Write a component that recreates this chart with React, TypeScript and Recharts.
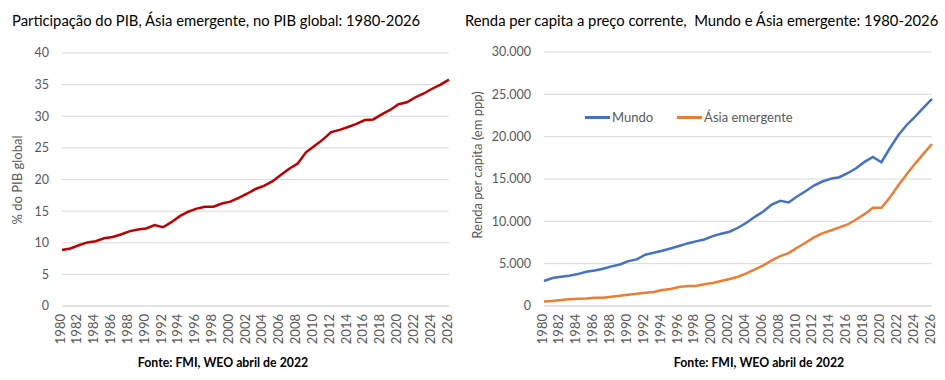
import React from 'react'
import { LineChart, Line, XAxis, YAxis, CartesianGrid } from 'recharts'

const years = [
  '1980', '1981', '1982', '1983', '1984', '1985', '1986', '1987', '1988', '1989',
  '1990', '1991', '1992', '1993', '1994', '1995', '1996', '1997', '1998', '1999',
  '2000', '2001', '2002', '2003', '2004', '2005', '2006', '2007', '2008', '2009',
  '2010', '2011', '2012', '2013', '2014', '2015', '2016', '2017', '2018', '2019',
  '2020', '2021', '2022', '2023', '2024', '2025', '2026',
]

// % do PIB global, Ásia emergente
const shareAsia = [
  8.85, 9.1, 9.6, 10.05, 10.25, 10.7, 10.9, 11.3, 11.8, 12.1,
  12.25, 12.8, 12.45, 13.25, 14.2, 14.9, 15.4, 15.7, 15.7, 16.2,
  16.5, 17.1, 17.75, 18.5, 19.0, 19.7, 20.7, 21.7, 22.5, 24.3,
  25.3, 26.3, 27.5, 27.85, 28.3, 28.8, 29.4, 29.5, 30.3, 31.0,
  31.9, 32.2, 33.0, 33.6, 34.35, 35.0, 35.8,
]

// renda per capita (ppp)
const mundo = [
  2950, 3300, 3450, 3580, 3770, 4050, 4200, 4400, 4680, 4910,
  5300, 5500, 6050, 6290, 6520, 6800, 7080, 7390, 7630, 7860,
  8250, 8530, 8770, 9240, 9830, 10530, 11160, 11990, 12420, 12230,
  12930, 13560, 14230, 14700, 15020, 15210, 15680, 16270, 17020, 17610,
  16980, 18630, 20160, 21380, 22370, 23430, 24450,
]

const asiaEmergente = [
  540, 580, 710, 790, 860, 900, 980, 980, 1100, 1220,
  1340, 1450, 1570, 1650, 1890, 2000, 2240, 2360, 2360, 2560,
  2710, 2950, 3180, 3460, 3850, 4320, 4800, 5390, 5900, 6250,
  6880, 7470, 8100, 8570, 8920, 9280, 9630, 10220, 10850, 11600,
  11600, 12810, 14230, 15570, 16820, 18000, 19140,
]

const shareTicks = [0, 5, 10, 15, 20, 25, 30, 35, 40]
const rendaTicks = [0, 5000, 10000, 15000, 20000, 25000, 30000]

const FONT = 'Lato, "Open Sans", sans-serif'
const GRAY = '#595959'
const GRID = '#d9d9d9'

const shareData = years.map((y, i) => ({ year: y, share: shareAsia[i] }))
const rendaData = years.map((y, i) => ({ year: y, mundo: mundo[i], asia: asiaEmergente[i] }))

const fmtThousands = (v: number) => v.toLocaleString('de-DE')

function YearTick({ x, y, payload }: any) {
  return (
    <text
      x={x - 2}
      y={y}
      dy="0.35em"
      textAnchor="end"
      transform={`rotate(-90, ${x - 2}, ${y})`}
      fill={GRAY}
      fontSize={13}
      fontFamily={FONT}
    >
      {payload.value}
    </text>
  )
}

const tickStyle = { fill: GRAY, fontSize: 12.5, fontFamily: FONT }

const titleStyle: React.CSSProperties = {
  position: 'absolute',
  top: 10,
  fontFamily: FONT,
  fontSize: 14.8,
  color: '#000',
  whiteSpace: 'nowrap',
  lineHeight: '20px',
}

const sourceStyle: React.CSSProperties = {
  position: 'absolute',
  top: 354,
  fontFamily: FONT,
  fontSize: 12.3,
  fontWeight: 700,
  color: '#000',
  whiteSpace: 'nowrap',
  lineHeight: '18px',
  transform: 'translateX(-50%)',
}

const axisLabelStyle: React.CSSProperties = {
  position: 'absolute',
  fontFamily: FONT,
  fontSize: 13,
  color: GRAY,
  whiteSpace: 'nowrap',
  lineHeight: '16px',
  transform: 'translate(-50%, -50%) rotate(-90deg)',
}

function LegendItem({ color, label }: { color: string; label: string }) {
  return (
    <div style={{ display: 'flex', alignItems: 'center', marginRight: 24 }}>
      <div style={{ width: 25, height: 3, background: color }} />
      <span style={{ marginLeft: 2, fontFamily: FONT, fontSize: 13, color: GRAY }}>{label}</span>
    </div>
  )
}

export default function App() {
  return (
    <div style={{ position: 'absolute', left: 0, top: 0, width: 945, height: 380, background: '#fff', overflow: 'hidden' }}>
      <div style={{ ...titleStyle, left: 12 }}>Participação do PIB, Ásia emergente, no PIB global: 1980-2026</div>
      <div style={{ ...titleStyle, left: 465 }}>Renda per capita a preço corrente,&nbsp; Mundo e Ásia emergente: 1980-2026</div>

      <div style={{ position: 'absolute', left: 0, top: 0 }}>
        <LineChart width={470} height={380} data={shareData} margin={{ top: 53, right: 21, bottom: 0, left: 0 }}>
          <CartesianGrid vertical={false} stroke={GRID} />
          <XAxis
            dataKey="year"
            interval={1}
            height={74}
            tickLine={false}
            axisLine={{ stroke: GRID }}
            tick={<YearTick />}
          />
          <YAxis
            domain={[0, 40]}
            ticks={shareTicks}
            width={62}
            axisLine={false}
            tickLine={false}
            tickMargin={7}
            tick={tickStyle}
          />
          <Line type="linear" dataKey="share" stroke="#c00000" strokeWidth={2.5} dot={false} isAnimationActive={false} />
        </LineChart>
      </div>

      <div style={{ position: 'absolute', left: 470, top: 0 }}>
        <LineChart width={475} height={380} data={rendaData} margin={{ top: 52, right: 13, bottom: 0, left: 0 }}>
          <CartesianGrid vertical={false} stroke={GRID} />
          <XAxis
            dataKey="year"
            interval={1}
            height={74}
            tickLine={false}
            axisLine={{ stroke: GRID }}
            tick={<YearTick />}
          />
          <YAxis
            domain={[0, 30000]}
            ticks={rendaTicks}
            width={74}
            axisLine={false}
            tickLine={false}
            tickMargin={7}
            tick={tickStyle}
            tickFormatter={fmtThousands}
          />
          <Line type="linear" dataKey="mundo" stroke="#4472c4" strokeWidth={2.5} dot={false} isAnimationActive={false} />
          <Line type="linear" dataKey="asia" stroke="#ed7d31" strokeWidth={2.5} dot={false} isAnimationActive={false} />
        </LineChart>
      </div>

      <div style={{ position: 'absolute', left: 585, top: 109, display: 'flex' }}>
        <LegendItem color="#4472c4" label="Mundo" />
        <LegendItem color="#ed7d31" label="Ásia emergente" />
      </div>

      <div style={{ ...axisLabelStyle, left: 17, top: 180 }}>% do PIB global</div>
      <div style={{ ...axisLabelStyle, left: 477, top: 165 }}>Renda per capita (em ppp)</div>

      <div style={{ ...sourceStyle, left: 223 }}>Fonte: FMI, WEO abril de 2022</div>
      <div style={{ ...sourceStyle, left: 759 }}>Fonte: FMI, WEO abril de 2022</div>
    </div>
  )
}
